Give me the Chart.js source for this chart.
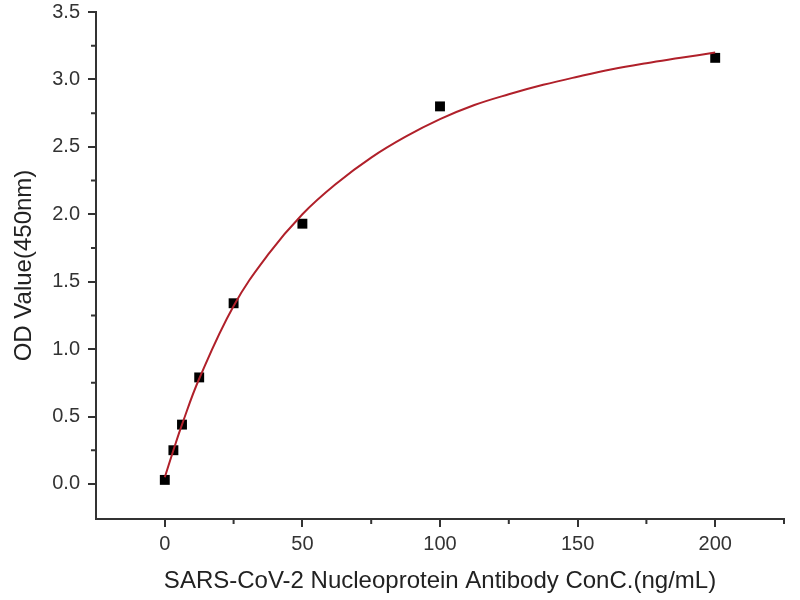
<!DOCTYPE html>
<html>
<head>
<meta charset="utf-8">
<script src="https://cdn.jsdelivr.net/npm/chart.js@4"></script>
<style>
  html, body { margin: 0; padding: 0; background: #fff; }
  #box { width: 800px; height: 600px; }
</style>
</head>
<body>
<div id="box"><canvas id="grafica"></canvas></div>
<script>
// measured standards
var conc = [0, 3.125, 6.25, 12.5, 25, 50, 100, 200];
var odValues = [0.03, 0.25, 0.44, 0.79, 1.34, 1.93, 2.80, 3.16];

// fitted curve
var curveX = [0, 3.125, 6.25, 12.5, 25, 37.5, 50, 62.5, 75, 87.5, 100, 112.5, 125, 137.5, 150, 162.5, 175, 187.5, 200];
var curveY = [0.05, 0.25, 0.44, 0.78, 1.32, 1.70, 2.00, 2.23, 2.42, 2.575, 2.705, 2.81, 2.89, 2.96, 3.02, 3.075, 3.12, 3.16, 3.20];

var xTicks = [0, 50, 100, 150, 200];
var xMinor = [25, 75, 125, 175, 225];
var yTicks = [0, 0.5, 1.0, 1.5, 2.0, 2.5, 3.0, 3.5];
var yMinor = [0.25, 0.75, 1.25, 1.75, 2.25, 2.75, 3.25];

var xTitle = "SARS-CoV-2 Nucleoprotein Antibody ConC.(ng/mL)";
var yTitle = "OD Value(450nm)";

function inicializar() {
    var ctx = document.getElementById("grafica").getContext("2d");

    var puntos = conc.map(function (c, i) { return { x: c, y: odValues[i] }; });
    var curva = curveX.map(function (c, i) { return { x: c, y: curveY[i] }; });

    // small ticks between the labelled ones
    var minorTicks = {
        id: 'minorTicks',
        afterDraw: function (chart) {
            var c = chart.ctx;
            var xs = chart.scales.x, ys = chart.scales.y;
            c.save();
            c.strokeStyle = '#333';
            c.lineWidth = 2;
            c.beginPath();
            xMinor.forEach(function (v) {
                var px = xs.getPixelForValue(v);
                c.moveTo(px, xs.top);
                c.lineTo(px, xs.top + 5);
            });
            yMinor.forEach(function (v) {
                var py = ys.getPixelForValue(v);
                c.moveTo(ys.right, py);
                c.lineTo(ys.right - 5, py);
            });
            c.stroke();
            c.restore();
        }
    };

    new Chart(ctx, {
        type: 'scatter',
        data: {
            datasets: [
                {
                    label: 'fit',
                    type: 'line',
                    data: curva,
                    borderColor: '#b0202a',
                    borderWidth: 2,
                    pointRadius: 0,
                    fill: false,
                    tension: 0.4,
                    order: 0
                },
                {
                    label: 'OD',
                    data: puntos,
                    pointStyle: 'rect',
                    pointRadius: 7,
                    backgroundColor: '#000',
                    borderColor: '#000',
                    borderWidth: 0,
                    order: 1
                }
            ]
        },
        plugins: [minorTicks],
        options: {
            responsive: true,
            maintainAspectRatio: false,
            animation: false,
            layout: { padding: { top: 12, right: 16, left: 0, bottom: 0 } },
            plugins: {
                legend: { display: false },
                tooltip: { enabled: false }
            },
            scales: {
                x: {
                    type: 'linear',
                    min: -25,
                    max: 225,
                    afterBuildTicks: function (scale) {
                        scale.ticks = xTicks.map(function (v) { return { value: v }; });
                    },
                    afterFit: function (scale) {
                        scale.height = 81;
                        scale.paddingLeft = 0;
                        scale.paddingRight = 0;
                    },
                    grid: { drawOnChartArea: false, drawTicks: true, tickLength: 8, color: '#333', lineWidth: 2 },
                    border: { color: '#333', width: 2 },
                    ticks: {
                        padding: 5,
                        color: '#333',
                        font: { family: 'Liberation Sans, Arial', size: 20 }
                    },
                    title: {
                        display: true,
                        text: xTitle,
                        color: '#222',
                        padding: { top: 0, bottom: 4 },
                        font: { family: 'Liberation Sans, Arial', size: 24 }
                    }
                },
                y: {
                    type: 'linear',
                    min: -0.26,
                    max: 3.5,
                    afterBuildTicks: function (scale) {
                        scale.ticks = yTicks.map(function (v) { return { value: v }; });
                    },
                    afterFit: function (scale) {
                        scale.width = 96;
                        scale.paddingTop = 0;
                        scale.paddingBottom = 0;
                    },
                    grid: { drawOnChartArea: false, drawTicks: true, tickLength: 8, color: '#333', lineWidth: 2 },
                    border: { color: '#333', width: 2 },
                    ticks: {
                        padding: 8,
                        color: '#333',
                        font: { family: 'Liberation Sans, Arial', size: 20 },
                        callback: function (v) { return Number(v).toFixed(1); }
                    },
                    title: {
                        display: true,
                        text: yTitle,
                        color: '#222',
                        padding: { top: 10, bottom: 0 },
                        font: { family: 'Liberation Sans, Arial', size: 24 }
                    }
                }
            }
        }
    });
}

inicializar();
</script>
</body>
</html>
